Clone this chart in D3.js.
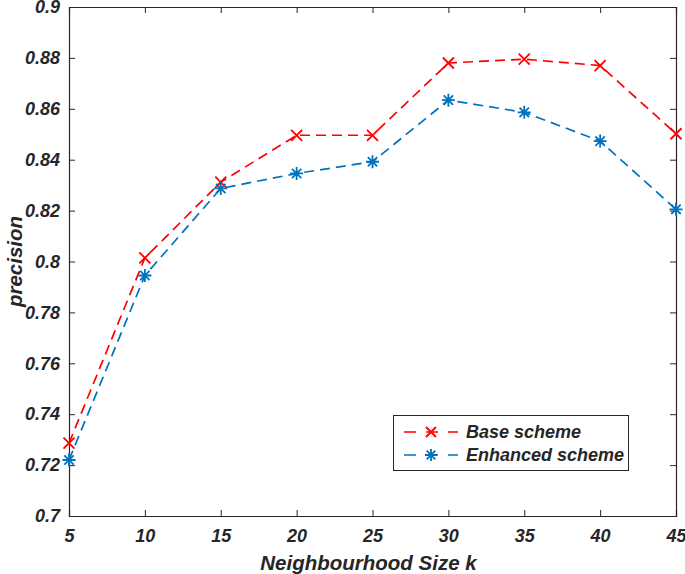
<!DOCTYPE html>
<html>
<head>
<meta charset="utf-8">
<script src="https://cdn.jsdelivr.net/npm/d3@7"></script>
<style>
  body { margin: 0; background: #fff; }
  text { font-family: "Liberation Sans", Arial, sans-serif; font-weight: bold; font-style: italic; fill: #262626; }
</style>
</head>
<body>
<svg width="685" height="574"></svg>
<script>
const kValues = [5, 10, 15, 20, 25, 30, 35, 40, 45];
const baseScheme = [0.7286, 0.8014, 0.8312, 0.8496, 0.8496, 0.878, 0.8795, 0.877, 0.8502];
const enhancedScheme = [0.722, 0.7945, 0.8287, 0.8346, 0.8392, 0.8634, 0.8586, 0.8473, 0.8205];
const yTicks = [0.7, 0.72, 0.74, 0.76, 0.78, 0.8, 0.82, 0.84, 0.86, 0.88, 0.9];
const seriesNames = ["Base scheme", "Enhanced scheme"];

const margin = { left: 69, right: 9, top: 7, bottom: 58 };
const width = 685;
const height = 574;
const axisColor = "#262626";

const svg = d3.select("svg");

const x = d3.scaleLinear().domain([5, 45]).range([margin.left, width - margin.right]);
const y = d3.scaleLinear().domain([0.7, 0.9]).range([height - margin.bottom, margin.top]);

// axes with inward ticks, box on
const bottomAxis = svg.append("g")
  .attr("transform", `translate(0,${y(0.7)})`)
  .call(d3.axisBottom(x).tickValues(kValues).tickSize(-6).tickPadding(14).tickFormat(d3.format("d")));
const leftAxis = svg.append("g")
  .attr("transform", `translate(${x(5)},0)`)
  .call(d3.axisLeft(y).tickValues(yTicks).tickSize(-6).tickPadding(9).tickFormat(d => d3.format("")(+d.toFixed(2))));
const topAxis = svg.append("g")
  .attr("transform", `translate(0,${y(0.9)})`)
  .call(d3.axisTop(x).tickValues(kValues).tickSize(-6).tickFormat(""));
const rightAxis = svg.append("g")
  .attr("transform", `translate(${x(45)},0)`)
  .call(d3.axisRight(y).tickValues(yTicks).tickSize(-6).tickFormat(""));

[bottomAxis, leftAxis, topAxis, rightAxis].forEach(g => {
  g.select(".domain").attr("stroke", axisColor).attr("stroke-width", 1.2);
  g.selectAll(".tick line").attr("stroke", axisColor).attr("stroke-width", 1);
  g.selectAll(".tick text").attr("font-size", 18).attr("fill", axisColor)
    .style("font-family", "'Liberation Sans', Arial, sans-serif");
});
bottomAxis.selectAll(".tick text").attr("dy", "0.68em");

// axis titles
svg.append("text")
  .attr("x", (x(5) + x(45)) / 2 - 4)
  .attr("y", 570)
  .attr("text-anchor", "middle")
  .attr("font-size", 20.5)
  .text("Neighbourhood Size k");

svg.append("text")
  .attr("transform", `translate(22,${y(0.8)}) rotate(-90)`)
  .attr("text-anchor", "middle")
  .attr("font-size", 20.5)
  .text("precision");

// markers
function drawCross(g, cx, cy, r, color) {
  g.append("path")
    .attr("d", `M${cx - r},${cy - r}L${cx + r},${cy + r}M${cx - r},${cy + r}L${cx + r},${cy - r}`)
    .attr("stroke", color).attr("stroke-width", 1.8).attr("fill", "none");
}
function drawStar(g, cx, cy, r, color) {
  const d = r * 0.72;
  g.append("path")
    .attr("d", `M${cx - d},${cy - d}L${cx + d},${cy + d}M${cx - d},${cy + d}L${cx + d},${cy - d}` +
      `M${cx - r},${cy}L${cx + r},${cy}M${cx},${cy - r}L${cx},${cy + r}`)
    .attr("stroke", color).attr("stroke-width", 1.8).attr("fill", "none");
}

const series = [
  { name: seriesNames[0], values: baseScheme, color: "#FF0000", marker: drawCross, r: 5.5 },
  { name: seriesNames[1], values: enhancedScheme, color: "#0072BD", marker: drawStar, r: 6.5 }
];

const line = d3.line().x((d, i) => x(kValues[i])).y(d => y(d));

series.forEach(s => {
  const g = svg.append("g");
  g.append("path")
    .datum(s.values)
    .attr("d", line)
    .attr("fill", "none")
    .attr("stroke", s.color)
    .attr("stroke-width", 1.7)
    .attr("stroke-dasharray", "10,6");
  s.values.forEach((v, i) => s.marker(g, x(kValues[i]), y(v), s.r, s.color));
});

// legend
const legend = svg.append("g");
legend.append("rect")
  .attr("x", 393.5).attr("y", 415.5)
  .attr("width", 235).attr("height", 55)
  .attr("fill", "#fff").attr("stroke", axisColor).attr("stroke-width", 1);

series.forEach((s, i) => {
  const ly = 432 + i * 23;
  legend.append("line")
    .attr("x1", 404).attr("x2", 458).attr("y1", ly).attr("y2", ly)
    .attr("stroke", s.color).attr("stroke-width", 1.7)
    .attr("stroke-dasharray", "12,10");
  s.marker(legend, 431, ly, s.r - 0.5, s.color);
  legend.append("text")
    .attr("x", 466).attr("y", ly)
    .attr("dy", "0.35em")
    .attr("font-size", 18)
    .attr("fill", "#000")
    .text(s.name);
});
</script>
</body>
</html>
